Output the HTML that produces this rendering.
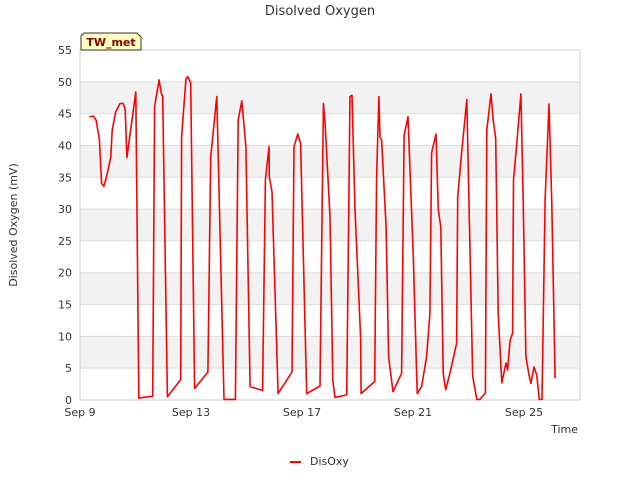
<!DOCTYPE html>
<html><head><meta charset="utf-8"><style>
body{margin:0;background:#fff;font-family:"Liberation Sans","DejaVu Sans",sans-serif;}
svg text{font-family:"DejaVu Sans","Liberation Sans",sans-serif;}
</style></head><body>
<svg id="chart" width="640" height="480" xmlns="http://www.w3.org/2000/svg">
<text x="320" y="15" text-anchor="middle" font-size="13" fill="#333">Disolved Oxygen</text>
<g id="bands"></g><g id="grid"></g>
<rect x="80" y="50" width="500" height="350" fill="none" stroke="#ccc"/>
<g id="yticks"></g><g id="xticks"></g>
<text transform="translate(17,225) rotate(-90)" text-anchor="middle" font-size="11" fill="#333">Disolved Oxygen (mV)</text>
<text x="578" y="433" text-anchor="end" font-size="11" fill="#333">Time</text>
<path id="line" fill="none" stroke="#ff0000" stroke-width="1.6" stroke-linejoin="round"/>
<g>
<path d="M84,33 L137,33 L141,37 L141,50 L81,50 L81,36 Z" fill="#ffffc0" stroke="#333"/>
<text x="111" y="46" text-anchor="middle" font-size="11" font-weight="bold" fill="#8b0000">TW_met</text>
</g>
<g>
<line x1="290" y1="462" x2="301" y2="462" stroke="#ff0000" stroke-width="2"/>
<text x="310" y="465" font-size="11" fill="#333">DisOxy</text>
</g>
</svg>
<script>
const yTicks=[0,5,10,15,20,25,30,35,40,45,50,55];
const xTickLabels=["Sep 9","Sep 13","Sep 17","Sep 21","Sep 25"];
const xTickDays=[0,4,8,12,16];
const days=[0.34,0.48,0.58,0.70,0.78,0.86,0.96,1.11,1.16,1.29,1.44,1.56,1.63,1.69,2.01,2.04,2.12,2.62,2.69,2.85,2.93,2.98,3.15,3.63,3.66,3.82,3.89,3.99,4.13,4.61,4.71,4.93,5.19,5.60,5.70,5.83,5.98,6.13,6.58,6.68,6.81,6.82,6.92,7.14,7.64,7.71,7.85,7.95,8.17,8.65,8.77,8.83,9.01,9.11,9.19,9.61,9.73,9.80,9.91,10.11,10.13,10.62,10.69,10.77,10.81,10.87,11.03,11.12,11.28,11.59,11.68,11.82,12.01,12.15,12.31,12.49,12.61,12.67,12.83,12.91,13.00,13.09,13.18,13.33,13.57,13.61,13.75,13.94,14.15,14.30,14.41,14.61,14.66,14.81,14.89,14.98,15.07,15.20,15.35,15.41,15.50,15.59,15.62,15.74,15.89,15.97,16.07,16.17,16.25,16.36,16.46,16.55,16.65,16.76,16.90,17.00,17.12];
const disoxy=[44.5,44.6,44,40.9,34,33.6,35.1,38.2,42.4,45.3,46.6,46.6,45.6,38.1,48.4,35.7,0.3,0.6,46.1,50.3,48.2,47.7,0.5,3.2,41.4,50.5,50.8,49.8,1.8,4.4,38.2,47.7,0.1,0.1,44,47,39.8,2.1,1.5,34.6,39.8,35.1,32.7,1.0,4.4,39.8,41.8,40.3,1.0,2.2,46.6,43.7,28.8,3.1,0.4,0.8,47.7,47.9,29.9,9.9,1.0,2.9,35.1,47.7,41.3,40.9,27.2,6.8,1.3,4.2,41.6,44.5,22.5,1.0,2.1,6.8,13.6,38.8,41.8,29.9,27.2,4.2,1.6,4.2,8.9,31.9,38.8,47.2,3.7,0.1,0.1,1.1,42.4,48.1,44,41.1,13.6,2.7,5.8,4.7,9.4,10.5,34.6,40.3,48.1,31.4,6.8,4.2,2.6,5.2,3.9,0.1,0.1,31.4,46.5,30.9,3.4];
const X0=80,PXD=27.75,Y0=400,H=350,YMAX=55;
function xs(d){return X0+d*PXD;}
function ys(v){return Y0-v/YMAX*H;}
const NS="http://www.w3.org/2000/svg";
const bands=document.getElementById('bands'),grid=document.getElementById('grid'),yt=document.getElementById('yticks'),xt=document.getElementById('xticks');
for(let i=0;i<yTicks.length;i++){
  const v=yTicks[i];
  if(i>0 && i%2===0 && i<yTicks.length){
    const r=document.createElementNS(NS,'rect');
    
    
    r.setAttribute('x',80);r.setAttribute('width',500);
    r.setAttribute('y',ys(v));r.setAttribute('height',ys(yTicks[i-1])-ys(v));
    r.setAttribute('fill','#f2f2f2');bands.appendChild(r);
  }
  const l=document.createElementNS(NS,'line');
  
  
  l.setAttribute('x1',80);l.setAttribute('x2',580);l.setAttribute('y1',ys(v));l.setAttribute('y2',ys(v));
  l.setAttribute('stroke','#dddddd');grid.appendChild(l);
  const t=document.createElementNS(NS,'text');
  
  
  t.setAttribute('x',72);t.setAttribute('y',ys(v)+4);t.setAttribute('text-anchor','end');
  t.setAttribute('font-size','11');t.setAttribute('fill','#333');t.textContent=v;yt.appendChild(t);
}
for(let i=0;i<xTickLabels.length;i++){
  const t=document.createElementNS(NS,'text');
  
  
  t.setAttribute('x',xs(xTickDays[i]));t.setAttribute('y',416);t.setAttribute('text-anchor','middle');
  t.setAttribute('font-size','11');t.setAttribute('fill','#333');t.textContent=xTickLabels[i];xt.appendChild(t);
}
let d='';
for(let i=0;i<days.length;i++){d+=(i?'L':'M')+xs(days[i]).toFixed(1)+','+ys(disoxy[i]).toFixed(1);}
document.getElementById('line').setAttribute('d',d);
</script>
</body></html>
